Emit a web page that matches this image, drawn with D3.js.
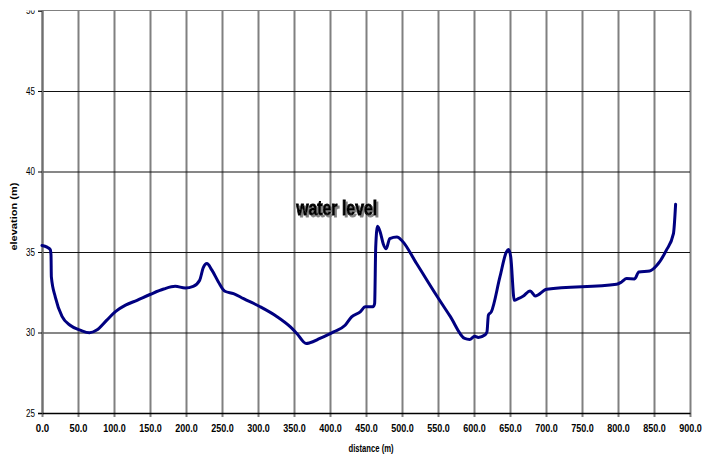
<!DOCTYPE html>
<html lang="en">
<head>
    <meta charset="UTF-8">
    <title>water level profile</title>
    <script src="https://d3js.org/d3.v7.min.js"></script>
    <style>
        body { margin: 0; background: #fff; }
        svg { display: block; }
        .ylab { font-family: Arial, "Liberation Sans", sans-serif; font-size: 10px; fill: #000; }
        .xlab { font-family: Arial, "Liberation Sans", sans-serif; font-weight: bold; font-size: 10.5px; fill: #000; }
        .title { font-family: Arial, "Liberation Sans", sans-serif; font-weight: bold; font-size: 9.5px; fill: #000; }
        .xtitle { font-family: Arial, "Liberation Sans", sans-serif; font-weight: bold; font-size: 10.5px; fill: #000; }
        .note { font-family: Arial, "Liberation Sans", sans-serif; font-weight: bold; font-size: 20px; fill: #000; stroke: #000; stroke-width: 0.9px; }
    </style>
</head>
<body>
<svg id="chart" width="713" height="458"></svg>
<script>
    // profile
    const distance = [0, 7, 11.5, 12.5, 13, 18.5, 27.8, 39, 53, 66, 76, 90, 102, 116, 132, 150, 169, 185, 199, 210,
        219, 224, 229, 236, 245, 254, 266, 280, 303, 326, 345, 354, 367, 372, 386, 405, 421, 430, 442, 449,
        460, 462, 463.5, 466, 470, 474, 478, 483, 493, 500, 520, 548, 567, 587, 594, 601, 606, 615, 618, 620,
        624, 636, 645, 648, 651, 656, 661.5, 668, 678, 685, 701, 798, 805, 812, 823, 829, 844, 854, 867, 877, 880];
    const elevation = [35.4, 35.3, 35.15, 34.8, 33.45, 32.2, 31.0, 30.45, 30.15, 29.98, 30.15, 30.77, 31.3, 31.7, 32.0, 32.36, 32.7, 32.87, 32.77, 32.87,
        33.25, 34.03, 34.28, 33.87, 33.14, 32.56, 32.42, 32.1, 31.6, 31.0, 30.35, 29.94, 29.32, 29.36, 29.63, 30.04, 30.45, 30.97, 31.28, 31.6,
        31.6, 31.8, 35.3, 36.6, 36.2, 35.5, 35.2, 35.83, 35.93, 35.7, 34.3, 32.3, 31.0, 29.63, 29.57, 29.77, 29.69, 29.84, 30.04, 31.08,
        31.28, 33.45, 35.0, 35.15, 34.7, 32.0, 32.1, 32.25, 32.58, 32.27, 32.69, 33.0, 33.14, 33.35, 33.33, 33.76, 33.82, 34.17, 35.1, 36.14, 37.96];

    const xTicks = d3.range(0, 901, 50);
    const yTicks = [25, 30, 35, 40, 45, 50];

    const margin = {top: 10.5, right: 23, bottom: 45, left: 42};
    const svg = d3.select("#chart");
    const W = +svg.attr("width"), H = +svg.attr("height");
    const w = W - margin.left - margin.right, h = H - margin.top - margin.bottom;

    const x = d3.scaleLinear().domain([0, 900]).range([0, w]);
    const y = d3.scaleLinear().domain([25, 50]).range([h, 0]);

    const defs = svg.append("defs");
    // the top label is cut off in the original
    defs.append("clipPath").attr("id", "cut")
        .append("rect").attr("x", -margin.left).attr("y", 0).attr("width", W).attr("height", H);
    const shadow = defs.append("filter").attr("id", "shadow")
        .attr("x", "-10%").attr("y", "-20%").attr("width", "130%").attr("height", "160%");
    shadow.append("feDropShadow").attr("dx", 2).attr("dy", 2).attr("stdDeviation", 0.6)
        .attr("flood-color", "#808080").attr("flood-opacity", 1);

    const g = svg.append("g").attr("transform", `translate(${margin.left},${margin.top})`);

    // vertical gridlines (grey), poking a few px below the axis
    const vg = g.append("g").attr("transform", `translate(0,${h + 4})`)
        .call(d3.axisBottom(x).tickValues(xTicks).tickSize(-(h + 4)).tickFormat(""));
    vg.select(".domain").remove();
    vg.selectAll("line").attr("stroke", "#808080").attr("stroke-width", 2);

    // horizontal gridlines (black)
    const hg = g.append("g")
        .call(d3.axisLeft(y).tickValues(yTicks.slice(1, -1)).tickSize(-w).tickFormat(""));
    hg.select(".domain").remove();
    hg.selectAll("line").attr("stroke", "#111").attr("stroke-width", 1.2);

    // top border
    g.append("line").attr("x1", 0).attr("x2", w).attr("y1", 0).attr("y2", 0)
        .attr("stroke", "#808080").attr("stroke-width", 1);

    // y axis
    const ya = g.append("g").call(d3.axisLeft(y).tickValues(yTicks).tickSize(4).tickPadding(3).tickFormat(d3.format("d")));
    ya.select(".domain").attr("stroke", "#707070").attr("stroke-width", 2);
    ya.selectAll("line").attr("stroke", "#000");
    ya.selectAll("text").attr("class", "ylab").attr("font-family", null).attr("font-size", null).attr("fill", null)
        .attr("textLength", 9).attr("lengthAdjust", "spacingAndGlyphs");
    ya.attr("clip-path", "url(#cut)");

    // x axis
    const fmt = d3.format(".1f");
    const xa = g.append("g").attr("transform", `translate(0,${h})`)
        .call(d3.axisBottom(x).tickValues(xTicks).tickSize(0).tickPadding(12).tickFormat(fmt));
    xa.select(".domain").attr("stroke", "#000").attr("stroke-width", 1.5);
    xa.selectAll("text").attr("class", "xlab").attr("font-family", null).attr("font-size", null).attr("fill", null)
        .attr("textLength", d => fmt(d).length * 4.5).attr("lengthAdjust", "spacingAndGlyphs");

    // profile line
    const line = d3.line()
        .x((d, i) => x(distance[i]))
        .y(d => y(d))
        .curve(d3.curveMonotoneX);
    g.append("path").datum(elevation)
        .attr("d", line)
        .attr("fill", "none")
        .attr("stroke", "#000080")
        .attr("stroke-width", 3)
        .attr("stroke-linejoin", "round")
        .attr("stroke-linecap", "round");

    // axis titles
    svg.append("text").attr("class", "title")
        .attr("transform", `translate(17,${margin.top + y(37.2)}) rotate(-90)`)
        .attr("text-anchor", "middle")
        .attr("textLength", 68).attr("lengthAdjust", "spacingAndGlyphs")
        .text("elevation (m)");
    svg.append("text").attr("class", "xtitle")
        .attr("x", margin.left + x(457)).attr("y", 452)
        .attr("text-anchor", "middle")
        .attr("textLength", 45).attr("lengthAdjust", "spacingAndGlyphs")
        .text("distance (m)");

    // annotation with a grey drop shadow
    g.append("text").attr("class", "note")
        .attr("x", x(353)).attr("y", y(37.3))
        .attr("textLength", 81).attr("lengthAdjust", "spacingAndGlyphs")
        .attr("filter", "url(#shadow)")
        .text("water level");
</script>
</body>
</html>
